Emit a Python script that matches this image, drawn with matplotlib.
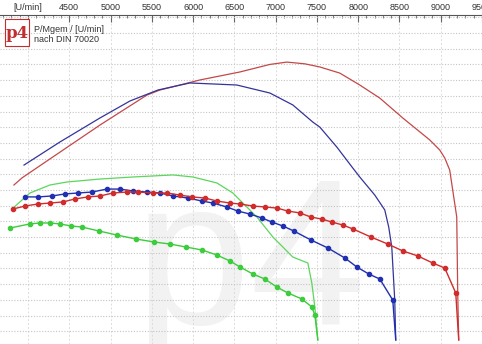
import matplotlib
matplotlib.use("Agg")
import matplotlib.pyplot as plt
from matplotlib.patches import Rectangle
from matplotlib.ticker import MultipleLocator

plt.rcParams["font.family"] = ["Liberation Sans", "DejaVu Sans"]

# Leistungskurven (ohne Punkte)
red_rpm = [3830, 3927, 4266, 4872, 5441, 5598, 6082, 6567, 6930, 7136, 7353,
           7535, 7777, 8019, 8261, 8540, 8867, 8988, 9049, 9109, 9194, 9206, 9218]
red_pwr = [103.2, 107.7, 119.8, 141.4, 160.5, 163.7, 170.1, 175.2, 180.0, 181.5,
           180.4, 178.4, 174.5, 166.9, 158.6, 145.9, 131.9, 125.5, 120.4, 112.7,
           82.8, 34.4, 4.5]

blue_rpm = [3952, 4387, 4872, 5235, 5574, 5961, 6530, 6930, 7208, 7450, 7535,
            7741, 7935, 8019, 8201, 8322, 8370, 8407, 8443, 8455]
blue_pwr = [115.9, 130.6, 145.9, 156.7, 163.7, 168.2, 166.9, 161.8, 154.2, 143.3,
            140.1, 127.4, 114.0, 108.3, 96.8, 87.3, 76.4, 63.7, 29.9, 4.5]

green_rpm = [3818, 4024, 4266, 4472, 4872, 5271, 5756, 5998, 6288, 6482, 6567,
             6773, 6966, 7208, 7390, 7438, 7475, 7511]
green_pwr = [88.5, 98.1, 103.2, 105.1, 107.0, 108.3, 109.6, 108.3, 104.5, 98.1,
             93.6, 82.8, 70.1, 57.3, 53.5, 40.8, 25.5, 4.5]

# Drehmomentkurven (mit Punkten)
blue_m_rpm = [3964, 4121, 4291, 4448, 4605, 4775, 4956, 5114, 5271, 5441, 5598,
              5756, 5937, 6106, 6240, 6409, 6542, 6688, 6833, 6954, 7087, 7220,
              7426, 7632, 7838, 7983, 8128, 8262, 8419, 8455]
blue_m = [95.6, 95.6, 96.2, 97.5, 98.1, 98.7, 100.6, 100.6, 99.4, 98.7, 98.1,
          96.2, 94.9, 93.0, 91.7, 89.2, 86.6, 84.7, 82.2, 79.6, 77.1, 73.9,
          68.2, 63.1, 56.7, 51.0, 46.5, 43.3, 29.9, 4.5]

red_m_rpm = [3818, 3964, 4121, 4266, 4424, 4569, 4726, 4872, 5029, 5199, 5332,
             5513, 5683, 5840, 5986, 6143, 6288, 6446, 6567, 6724, 6869, 7015,
             7148, 7293, 7426, 7559, 7681, 7814, 7935, 8153, 8358, 8540, 8722,
             8903, 9049, 9182, 9218]
red_m = [87.9, 89.8, 91.1, 91.7, 92.4, 94.3, 95.6, 96.2, 98.1, 98.7, 98.7,
         98.1, 98.1, 96.8, 95.6, 94.9, 93.0, 91.7, 91.1, 89.8, 89.2, 88.5,
         86.6, 85.4, 82.8, 81.5, 79.6, 77.7, 75.2, 70.1, 65.6, 61.2, 58.0,
         53.5, 50.3, 34.4, 4.5]

green_m_rpm = [3782, 4024, 4145, 4266, 4387, 4521, 4654, 4860, 5078, 5308, 5526,
               5719, 5913, 6107, 6288, 6446, 6567, 6724, 6869, 7015, 7148, 7317,
               7438, 7475, 7511]
green_m = [75.8, 78.4, 79.0, 79.0, 78.4, 77.1, 76.4, 73.9, 71.3, 68.8, 66.9,
           65.6, 63.7, 61.8, 58.6, 54.8, 51.0, 46.5, 43.3, 38.2, 34.4, 30.6,
           25.5, 20.4, 4.5]

tick_rpm = [4000, 4500, 5000, 5500, 6000, 6500, 7000, 7500, 8000, 8500, 9000, 9500]
tick_labels = ["[U/min]", "4500", "5000", "5500", "6000", "6500", "7000", "7500",
               "8000", "8500", "9000", "9500"]

fig = plt.figure(figsize=(4.82, 3.44), dpi=100)
ax = fig.add_axes([0, 0, 1, 329 / 344])

ax.set_xlim(3661, 9497)
ax.set_ylim(1.9, 211.5)

# Gitter
ax.yaxis.set_major_locator(MultipleLocator(10))
ax.set_xticks(tick_rpm)
ax.set_xticklabels(tick_labels)
ax.xaxis.set_minor_locator(MultipleLocator(100))
ax.grid(axis="y", color="#c4c4c4", linestyle=(0, (1, 1.5)), linewidth=0.8)
ax.grid(axis="x", color="#dcdcdc", linestyle=(0, (2, 2)), linewidth=0.7)
ax.set_axisbelow(True)

for s in ["left", "right", "bottom"]:
    ax.spines[s].set_visible(False)
ax.spines["top"].set_color("#555555")
ax.spines["top"].set_linewidth(0.8)
ax.xaxis.tick_top()
ax.tick_params(axis="x", which="both", direction="in", colors="#666666",
               labelcolor="#333333", labelsize=6.5, pad=2)
ax.tick_params(axis="x", which="major", length=5)
ax.tick_params(axis="x", which="minor", length=2.5)
ax.tick_params(axis="y", left=False, labelleft=False)

# Wasserzeichen
ax.text(0.52, -0.07, "p4", transform=ax.transAxes, fontsize=150,
        color="#f2f2f2", ha="center", va="bottom", zorder=0)

ax.plot(red_rpm, red_pwr, color="#c44848", lw=0.9)
ax.plot(blue_rpm, blue_pwr, color="#34349a", lw=0.9)
ax.plot(green_rpm, green_pwr, color="#5cd65c", lw=0.9)

ax.plot(blue_m_rpm, blue_m, color="#2030b0", lw=1.0, marker="o", ms=3,
        markevery=slice(0, -1))
ax.plot(red_m_rpm, red_m, color="#d02c2c", lw=1.0, marker="o", ms=3,
        markevery=slice(0, -1))
ax.plot(green_m_rpm, green_m, color="#3ccc3c", lw=1.0, marker="o", ms=3,
        markevery=slice(0, -1))

# Logo oben links
W, H = 482, 344
fig.patches.append(Rectangle((5 / W, 1 - 46 / H), 24 / W, 27 / H,
                             transform=fig.transFigure, facecolor="white",
                             edgecolor="#c03030", lw=0.8, zorder=5))
fig.text(17 / W, 1 - 34 / H, "p4", color="#c03030", fontsize=12,
         fontweight="bold", family="DejaVu Serif", ha="center", va="center",
         zorder=6)
fig.text(34 / W, 1 - 29 / H, "P/Mgem / [U/min]", fontsize=6.5, color="#333333",
         va="center", zorder=6)
fig.text(34 / W, 1 - 39 / H, "nach DIN 70020", fontsize=6.5, color="#333333",
         va="center", zorder=6)

fig.savefig("out.png", dpi=100)
